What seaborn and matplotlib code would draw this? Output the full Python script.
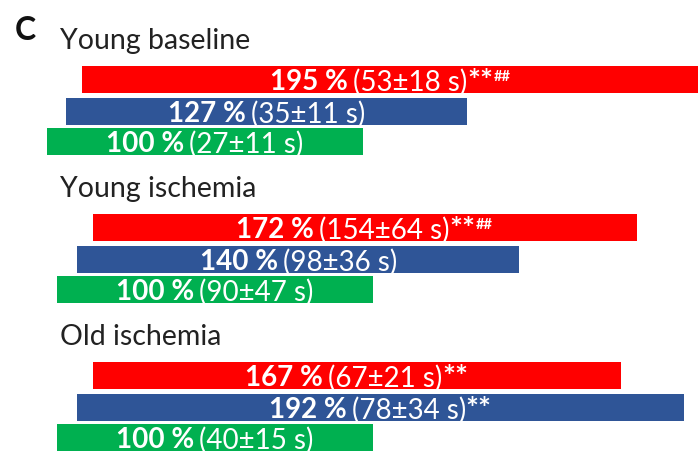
import matplotlib
matplotlib.use("Agg")
import matplotlib.pyplot as plt
import matplotlib.transforms as mtransforms
import pandas as pd
import seaborn as sns

# ---- values ------------------------------------------------------------
groups = ["Young baseline", "Young ischemia", "Old ischemia"]
series = ["red", "blue", "green"]

pct_red = [195, 172, 167]
pct_blue = [127, 140, 192]
pct_green = [100, 100, 100]

mean_red = [53, 154, 67]
mean_blue = [35, 98, 78]
mean_green = [27, 90, 40]

sd_red = [18, 64, 21]
sd_blue = [11, 36, 34]
sd_green = [11, 47, 15]

stars_red = ["**", "**", "**"]
hashes_red = ["##", "##", ""]
stars_blue = ["", "", "**"]
hashes_blue = ["", "", ""]
stars_green = ["", "", ""]
hashes_green = ["", "", ""]

panel_label = "C"

# ---- layout (pixel units of the 700 x 456 canvas) ----------------------
W, H = 700, 456
PX_PER_PCT = 3.16
GROUP_Y = [80.5, 228.5, 376.5]
ROW_DY = {"red": 0, "blue": 32, "green": 62}
BAR_H = 26.5
LEFT_PX = {"red": [82, 93, 93], "blue": [66, 77, 77], "green": [46.5, 57, 57]}
COLORS = {"red": "#FF0000", "blue": "#2F5597", "green": "#00B050"}
TITLE_X = 60
FS = 20
TITLE_FS = 20.5
STAR_FS = 22
HASH_FS = 10.5

sns.set_theme(style="white")
plt.rcParams["font.family"] = ["Lato", "DejaVu Sans"]

values = {
    "red": (pct_red, mean_red, sd_red, stars_red, hashes_red),
    "blue": (pct_blue, mean_blue, sd_blue, stars_blue, hashes_blue),
    "green": (pct_green, mean_green, sd_green, stars_green, hashes_green),
}

rows = []
for s in series:
    pct, mean, sd, st, hs = values[s]
    for g, name in enumerate(groups):
        rows.append(dict(group=name, series=s, pct=pct[g], mean=mean[g], sd=sd[g],
                         stars=st[g], hashes=hs[g], ypos=GROUP_Y[g] + ROW_DY[s],
                         left=LEFT_PX[s][g] / PX_PER_PCT))
df = pd.DataFrame(rows)

fig = plt.figure(figsize=(W / 100, H / 100), dpi=100)
ax = fig.add_axes([0, 0, 1, 1])

step = GROUP_Y[1] - GROUP_Y[0]
for s in series:
    d = df[df["series"] == s].sort_values("ypos")
    sns.barplot(data=d, x="pct", y="ypos", orient="y", native_scale=True,
                color=COLORS[s], saturation=1, errorbar=None,
                width=BAR_H / step, left=d["left"].to_numpy(),
                linewidth=0, ax=ax)

ax.set_xlim(0, W / PX_PER_PCT)
ax.set_ylim(H, 0)
ax.axis("off")

renderer = fig.canvas.get_renderer()


def draw_runs(xc, y_base, runs, color="white"):
    """Place consecutive text runs centred on xc, sharing a baseline."""
    placed = []
    total = 0.0
    for text, weight, size, rise, gap in runs:
        if not text:
            continue
        t = ax.text(xc, y_base, text, fontsize=size, fontweight=weight,
                    color=color, ha="left", va="baseline")
        w = t.get_window_extent(renderer).width
        placed.append((t, total + gap, rise))
        total += gap + w
    for t, off, rise in placed:
        dx = (off - total / 2) / fig.dpi
        t.set_transform(ax.transData + mtransforms.ScaledTranslation(
            dx, rise / fig.dpi, fig.dpi_scale_trans))


cap_px = FS * 100 / 72 * 0.72
hash_px = HASH_FS * 100 / 72 * 0.70
for _, r in df.iterrows():
    xc = r["left"] + r["pct"] / 2
    base = r["ypos"] + 10
    draw_runs(xc, base, [
        (f"{r['pct']} %", "bold", FS, 0, 0),
        (f"({r['mean']}±{r['sd']} s)", "normal", FS, 0, 5),
        (r["stars"], "bold", STAR_FS, -1, 0),
        (r["hashes"], "bold", HASH_FS, cap_px - hash_px, 0.5),
    ])

for g, name in enumerate(groups):
    ax.text(TITLE_X / PX_PER_PCT, GROUP_Y[g] - 31, name, fontsize=TITLE_FS,
            color="#222222", ha="left", va="baseline")

ax.text(15 / PX_PER_PCT, 40, panel_label, fontsize=23, fontweight="bold",
        color="#111111", ha="left", va="baseline")

fig.savefig("out.png", dpi=100)
